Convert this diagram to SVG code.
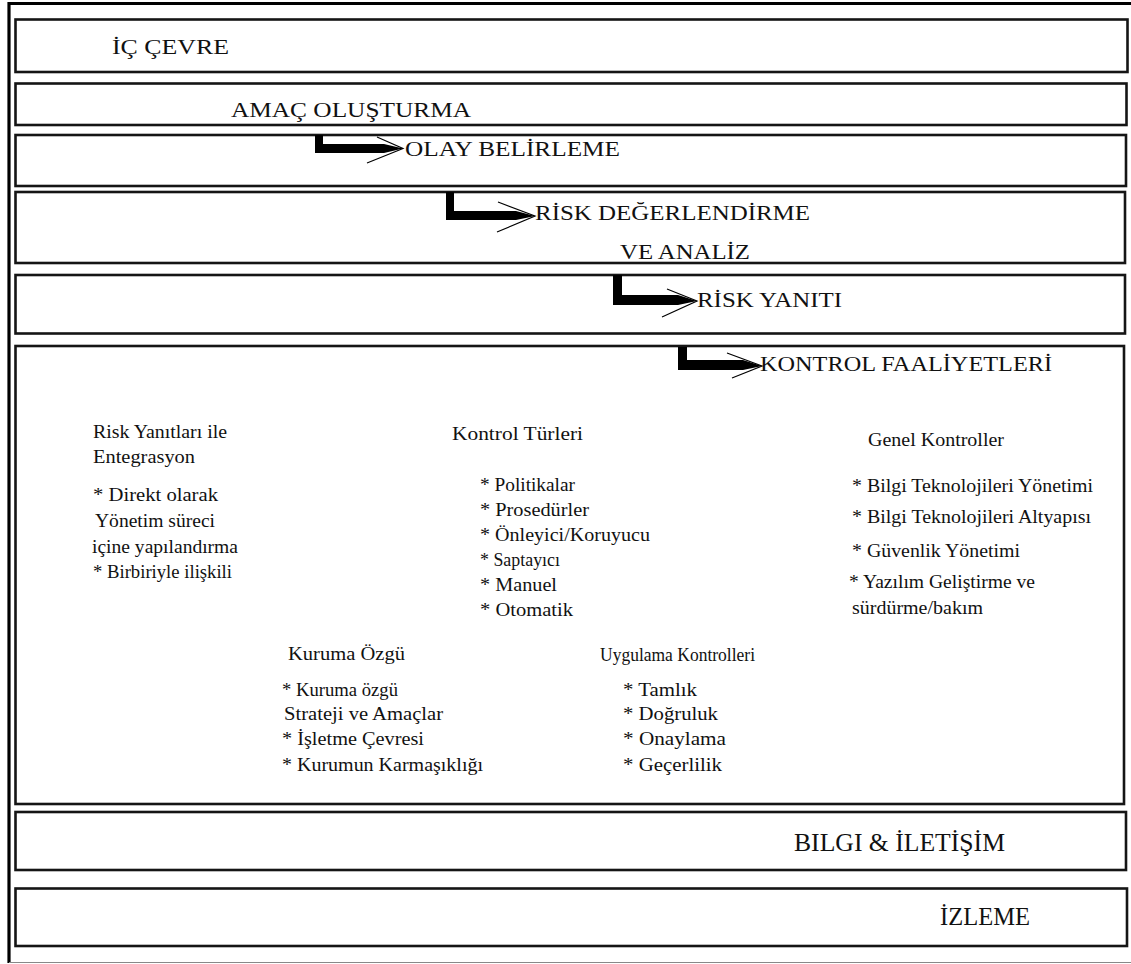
<svg xmlns="http://www.w3.org/2000/svg" width="1131" height="964" viewBox="0 0 1131 964">
  <style>
    .box { fill: none; stroke: #151515; stroke-width: 2.6; }
    .frame { fill: none; stroke: #000; stroke-width: 3.2; }
    text { font-family: "Liberation Serif", "DejaVu Serif", serif; fill: #111; }
    .title { font-size: 22px; }
    .title2 { font-size: 26px; }
    .body { font-size: 18.5px; }
    .bar { fill: #000; }
    .head { fill: none; stroke: #000; stroke-width: 1.2; }
  </style>
  <rect width="1131" height="964" fill="#fff"/>

  <!-- outer frame -->
  <g id="frame">
    <line class="frame" x1="9" y1="3.5" x2="1131" y2="3.5"/>
    <line class="frame" x1="9" y1="2" x2="9" y2="963"/>
    <line x1="9" y1="962.5" x2="1131" y2="962.5" stroke="#888" stroke-width="1.2"/>
  </g>

  <g id="ic-cevre">
    <rect class="box" x="15.5" y="19.5" width="1112" height="52.5"/>
    <text class="title" x="112" y="54" textLength="117" lengthAdjust="spacingAndGlyphs">İÇ ÇEVRE</text>
  </g>

  <g id="amac-olusturma">
    <rect class="box" x="15.5" y="83.5" width="1111" height="41.5"/>
    <text class="title" x="231" y="117" textLength="240" lengthAdjust="spacingAndGlyphs">AMAÇ OLUŞTURMA</text>
  </g>

  <g id="olay-belirleme">
    <rect class="box" x="15.5" y="135" width="1110.5" height="51"/>
    <text class="title" x="405" y="156" textLength="215" lengthAdjust="spacingAndGlyphs">OLAY BELİRLEME</text>
  </g>

  <g id="risk-degerlendirme">
    <rect class="box" x="15.5" y="192" width="1109.5" height="71"/>
    <text class="title" x="535" y="220" textLength="275" lengthAdjust="spacingAndGlyphs">RİSK DEĞERLENDİRME</text>
    <text class="title" x="620" y="259" textLength="130" lengthAdjust="spacingAndGlyphs">VE ANALİZ</text>
  </g>

  <g id="risk-yaniti">
    <rect class="box" x="15.5" y="275" width="1109.5" height="58.5"/>
    <text class="title" x="697" y="307" textLength="145" lengthAdjust="spacingAndGlyphs">RİSK YANITI</text>
  </g>

  <g id="kontrol-faaliyetleri">
    <rect class="box" x="15.5" y="346" width="1108.5" height="458"/>
    <text class="title" x="760" y="371" textLength="292" lengthAdjust="spacingAndGlyphs">KONTROL FAALİYETLERİ</text>

    <g id="risk-yanitlari">
      <text class="body" x="93" y="438" textLength="134" lengthAdjust="spacingAndGlyphs">Risk Yanıtları ile</text>
      <text class="body" x="93" y="463" textLength="102" lengthAdjust="spacingAndGlyphs">Entegrasyon</text>
      <text class="body" x="93" y="501" textLength="125" lengthAdjust="spacingAndGlyphs">* Direkt olarak</text>
      <text class="body" x="95" y="527" textLength="120" lengthAdjust="spacingAndGlyphs">Yönetim süreci</text>
      <text class="body" x="92" y="553" textLength="146" lengthAdjust="spacingAndGlyphs">içine yapılandırma</text>
      <text class="body" x="93" y="578" textLength="139" lengthAdjust="spacingAndGlyphs">* Birbiriyle ilişkili</text>
    </g>

    <g id="kontrol-turleri">
      <text class="body" x="452" y="440" textLength="131" lengthAdjust="spacingAndGlyphs">Kontrol  Türleri</text>
      <text class="body" x="480" y="491" textLength="95" lengthAdjust="spacingAndGlyphs">* Politikalar</text>
      <text class="body" x="480" y="516" textLength="109" lengthAdjust="spacingAndGlyphs">* Prosedürler</text>
      <text class="body" x="480" y="541" textLength="170" lengthAdjust="spacingAndGlyphs">* Önleyici/Koruyucu</text>
      <text class="body" x="480" y="566" textLength="80" lengthAdjust="spacingAndGlyphs">* Saptayıcı</text>
      <text class="body" x="480" y="591" textLength="77" lengthAdjust="spacingAndGlyphs">* Manuel</text>
      <text class="body" x="480" y="616" textLength="93" lengthAdjust="spacingAndGlyphs">* Otomatik</text>
    </g>

    <g id="genel-kontroller">
      <text class="body" x="868" y="446" textLength="136" lengthAdjust="spacingAndGlyphs">Genel Kontroller</text>
      <text class="body" x="852" y="492" textLength="241" lengthAdjust="spacingAndGlyphs">* Bilgi Teknolojileri Yönetimi</text>
      <text class="body" x="852" y="523" textLength="239" lengthAdjust="spacingAndGlyphs">* Bilgi Teknolojileri  Altyapısı</text>
      <text class="body" x="852" y="557" textLength="168" lengthAdjust="spacingAndGlyphs">* Güvenlik Yönetimi</text>
      <text class="body" x="849" y="588" textLength="186" lengthAdjust="spacingAndGlyphs">* Yazılım Geliştirme ve</text>
      <text class="body" x="852" y="614" textLength="131" lengthAdjust="spacingAndGlyphs">sürdürme/bakım</text>
    </g>

    <g id="kuruma-ozgu">
      <text class="body" x="288" y="660" textLength="117" lengthAdjust="spacingAndGlyphs">Kuruma Özgü</text>
      <text class="body" x="282" y="696" textLength="116" lengthAdjust="spacingAndGlyphs">* Kuruma özgü</text>
      <text class="body" x="284" y="720" textLength="159" lengthAdjust="spacingAndGlyphs">Strateji ve Amaçlar</text>
      <text class="body" x="282" y="745" textLength="142" lengthAdjust="spacingAndGlyphs">* İşletme Çevresi</text>
      <text class="body" x="282" y="771" textLength="201" lengthAdjust="spacingAndGlyphs">* Kurumun Karmaşıklığı</text>
    </g>

    <g id="uygulama-kontrolleri">
      <text class="body" x="600" y="661" textLength="155" lengthAdjust="spacingAndGlyphs">Uygulama Kontrolleri</text>
      <text class="body" x="623" y="696" textLength="74" lengthAdjust="spacingAndGlyphs">* Tamlık</text>
      <text class="body" x="623" y="720" textLength="95" lengthAdjust="spacingAndGlyphs">* Doğruluk</text>
      <text class="body" x="623" y="745" textLength="103" lengthAdjust="spacingAndGlyphs">* Onaylama</text>
      <text class="body" x="623" y="771" textLength="99" lengthAdjust="spacingAndGlyphs">* Geçerlilik</text>
    </g>
  </g>

  <g id="bilgi-iletisim">
    <rect class="box" x="15.5" y="812" width="1110.5" height="58"/>
    <text class="title2" x="794" y="851" textLength="211" lengthAdjust="spacingAndGlyphs">BILGI &amp; İLETİŞİM</text>
  </g>

  <g id="izleme">
    <rect class="box" x="15.5" y="888.5" width="1111.5" height="57.5"/>
    <text class="title2" x="940" y="925" textLength="90" lengthAdjust="spacingAndGlyphs">İZLEME</text>
  </g>

  <!-- elbow arrows: thick bar dropping from a box top, turning right into a wedge tip with an open V head -->
  <g id="connectors">
    <path class="bar" d="M315,135 H323 V144 H384 L403,148.5 L384,153 H315 Z"/>
    <path class="head" d="M377,137 L403,148.5 L367,163"/>

    <path class="bar" d="M446,192 H454 V211 H516 L535,216 L516,220 H446 Z"/>
    <path class="head" d="M498,202 L535,216 L497,232"/>

    <path class="bar" d="M613,275 H622 V295 H678 L697,301 L678,305 H613 Z"/>
    <path class="head" d="M667,289 L697,301 L662,317"/>

    <path class="bar" d="M678,347 H687 V360 H743 L762,366 L743,370 H678 Z"/>
    <path class="head" d="M727,353 L762,366 L732,378"/>
  </g>
</svg>
